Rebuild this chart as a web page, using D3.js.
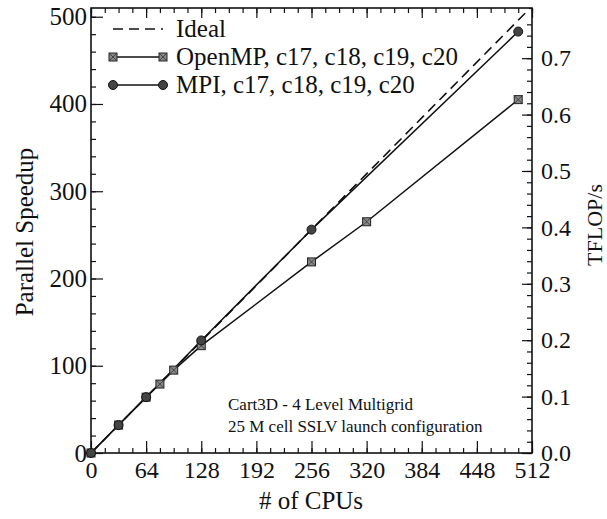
<html>
  <head>
    <meta charset="utf-8">
    <script src="https://cdn.jsdelivr.net/npm/d3@7"></script>
    <style>
      body { margin: 0; background: #fff; }
      svg text { font-family: "Liberation Serif", "DejaVu Serif", serif; fill: #111; }
      .axis path { display: none; }
      .axis line { stroke: #111; stroke-width: 1.2; }
    </style>
  </head>
  <body>
    <svg id="chart" width="607" height="519"></svg>

    <script>
      // values
      var cpusOpenMP = [0, 32, 64, 80, 96, 128, 256, 320, 496];
      var speedOpenMP = [0, 32, 64, 79, 95, 123, 219, 265, 405];
      var cpusMPI = [0, 32, 64, 128, 256, 496];
      var speedMPI = [0, 32, 64, 129, 256, 483];
      var idealCpus = [0, 512];

      var xTicks = [0, 64, 128, 192, 256, 320, 384, 448, 512];
      var yTicks = [0, 100, 200, 300, 400, 500];
      var tflopTicks = [0, 0.1, 0.2, 0.3, 0.4, 0.5, 0.6, 0.7];
      var legendNames = ["Ideal", "OpenMP, c17, c18, c19, c20", "MPI, c17, c18, c19, c20"];
      var noteLines = ["Cart3D - 4 Level Multigrid", "25 M cell SSLV launch configuration"];

      // plot box (window.top is taken, so pL/pR/pT/pB)
      var pL = 91, pR = 532, pT = 8, pB = 453;

      var svg = d3.select("#chart");

      var x = d3.scaleLinear().domain([0, 512]).range([pL, pR]);
      var y = d3.scaleLinear().domain([0, 510]).range([pB, pT]);
      // right axis: TFLOP/s per unit of speedup
      var yR = d3.scaleLinear().domain([0, 510 * 0.001547]).range([pB, pT]);

      svg.append("clipPath").attr("id", "plotclip")
        .append("rect").attr("x", pL).attr("y", pT)
        .attr("width", pR - pL).attr("height", pB - pT);

      // minor ticks first, then major with labels
      function minor(axis, g) {
        g.attr("class", "axis").call(axis.tickFormat(""));
      }
      var minorX = d3.range(0, 513, 16);
      var minorY = d3.range(0, 510, 20);
      var minorR = d3.range(0, 0.78, 0.02);

      minor(d3.axisBottom(x).tickValues(minorX).tickSize(-5),
        svg.append("g").attr("transform", "translate(0," + pB + ")"));
      minor(d3.axisTop(x).tickValues(minorX).tickSize(-5),
        svg.append("g").attr("transform", "translate(0," + pT + ")"));
      minor(d3.axisLeft(y).tickValues(minorY).tickSize(-5),
        svg.append("g").attr("transform", "translate(" + pL + ",0)"));
      minor(d3.axisRight(yR).tickValues(minorR).tickSize(-5),
        svg.append("g").attr("transform", "translate(" + pR + ",0)"));

      svg.append("g").attr("class", "axis")
        .attr("transform", "translate(0," + pB + ")")
        .call(d3.axisBottom(x).tickValues(xTicks).tickSize(-12).tickPadding(8))
        .selectAll("text").attr("font-size", 24);
      svg.append("g").attr("class", "axis")
        .attr("transform", "translate(0," + pT + ")")
        .call(d3.axisTop(x).tickValues(xTicks).tickSize(-10).tickFormat(""));
      svg.append("g").attr("class", "axis")
        .attr("transform", "translate(" + pL + ",0)")
        .call(d3.axisLeft(y).tickValues(yTicks).tickSize(-12).tickPadding(4))
        .selectAll("text").attr("font-size", 25);
      svg.append("g").attr("class", "axis")
        .attr("transform", "translate(" + pR + ",0)")
        .call(d3.axisRight(yR).tickValues(tflopTicks).tickSize(-10).tickPadding(9)
          .tickFormat(d3.format(".1f")))
        .selectAll("text").attr("font-size", 24);

      // frame
      svg.append("rect")
        .attr("x", pL).attr("y", pT)
        .attr("width", pR - pL).attr("height", pB - pT)
        .attr("fill", "none").attr("stroke", "#111").attr("stroke-width", 1.6);

      var plot = svg.append("g").attr("clip-path", "url(#plotclip)");

      var line = d3.line()
        .x(function(d) { return x(d[0]); })
        .y(function(d) { return y(d[1]); });

      plot.append("path")
        .datum(idealCpus.map(function(c) { return [c, c]; }))
        .attr("d", line)
        .attr("fill", "none").attr("stroke", "#111")
        .attr("stroke-width", 1.6).attr("stroke-dasharray", "10,6");

      var openmp = cpusOpenMP.map(function(c, i) { return [c, speedOpenMP[i]]; });
      var mpi = cpusMPI.map(function(c, i) { return [c, speedMPI[i]]; });

      plot.append("path").datum(openmp).attr("d", line)
        .attr("fill", "none").attr("stroke", "#111").attr("stroke-width", 1.5);
      plot.append("path").datum(mpi).attr("d", line)
        .attr("fill", "none").attr("stroke", "#111").attr("stroke-width", 1.5);

      function squareMark(g, cx, cy) {
        g.append("rect").attr("x", cx - 4).attr("y", cy - 4)
          .attr("width", 8).attr("height", 8)
          .attr("fill", "#888").attr("stroke", "#222").attr("stroke-width", 1);
        g.append("path")
          .attr("d", "M" + (cx - 4) + "," + (cy - 4) + "L" + (cx + 4) + "," + (cy + 4) +
            "M" + (cx + 4) + "," + (cy - 4) + "L" + (cx - 4) + "," + (cy + 4))
          .attr("stroke", "#333").attr("stroke-width", 0.8);
      }
      function circleMark(g, cx, cy) {
        g.append("circle").attr("cx", cx).attr("cy", cy).attr("r", 4.5)
          .attr("fill", "#444").attr("stroke", "#111").attr("stroke-width", 1);
      }

      var marks = svg.append("g");
      openmp.forEach(function(d) { squareMark(marks, x(d[0]), y(d[1])); });
      mpi.forEach(function(d) { circleMark(marks, x(d[0]), y(d[1])); });

      // legend
      var lg = svg.append("g");
      var legY = [29, 57, 85];
      legendNames.forEach(function(name, i) {
        var ly = legY[i];
        var seg = lg.append("line")
          .attr("x1", 113).attr("x2", 163).attr("y1", ly).attr("y2", ly)
          .attr("stroke", "#111").attr("stroke-width", 1.5);
        if (i === 0) seg.attr("stroke-dasharray", "10,6");
        if (i === 1) { squareMark(lg, 113, ly); squareMark(lg, 163, ly); }
        if (i === 2) { circleMark(lg, 113, ly); circleMark(lg, 163, ly); }
        lg.append("text").attr("x", 176).attr("y", ly + 8)
          .attr("font-size", 25).text(name);
      });

      // note
      noteLines.forEach(function(t, i) {
        svg.append("text").attr("x", 228).attr("y", 410 + i * 22)
          .attr("font-size", 17).text(t);
      });

      // axis titles
      svg.append("text")
        .attr("x", 311).attr("y", 509)
        .attr("text-anchor", "middle").attr("font-size", 25)
        .text("# of CPUs");
      svg.append("text")
        .attr("transform", "translate(33,232) rotate(-90)")
        .attr("text-anchor", "middle").attr("font-size", 25)
        .text("Parallel Speedup");
      svg.append("text")
        .attr("transform", "translate(602,225) rotate(-90)")
        .attr("text-anchor", "middle").attr("font-size", 22)
        .text("TFLOP/s");
    </script>
  </body>
</html>
